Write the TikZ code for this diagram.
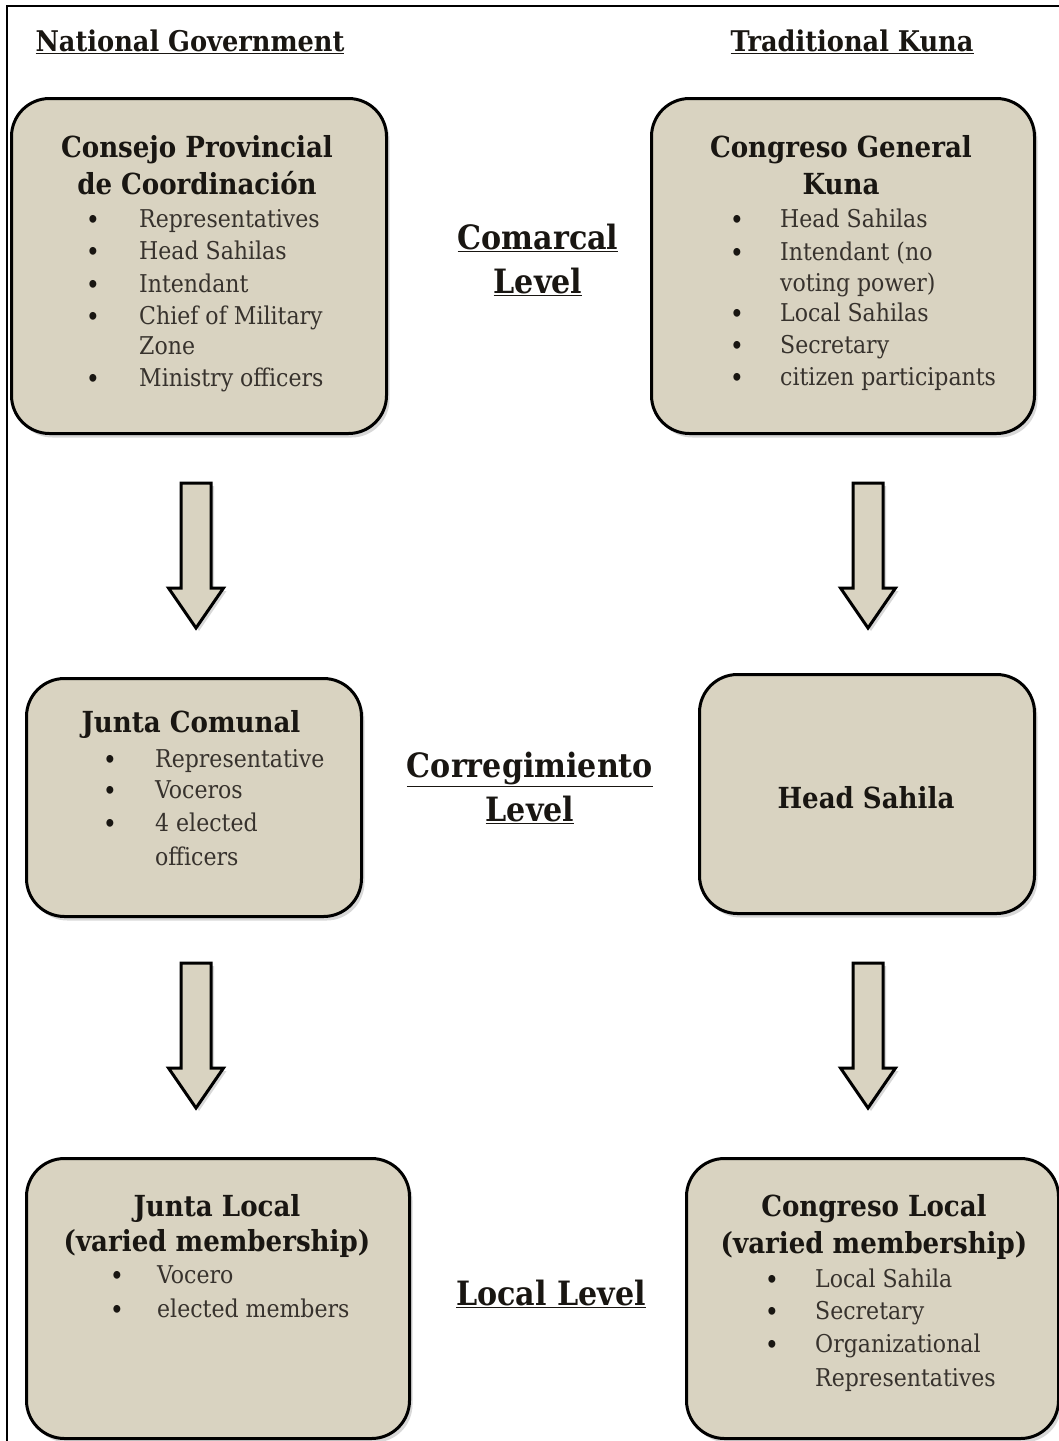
\documentclass[tikz,border=0pt]{standalone}
\usepackage{fontspec}
\setmainfont{DejaVu Serif Condensed}
\usetikzlibrary{shadows}
\definecolor{boxfill}{RGB}{217,211,193}
\definecolor{itemcol}{RGB}{55,50,45}
\definecolor{headcol}{RGB}{25,22,18}
\newcommand\myblockarrow[3]{%
  \draw[blockarrow] (#2-15,#3) -- (#2+15,#3) -- (#2+15,#3+105) -- (#2+27.5,#3+105)
    -- (#2,#3+145) coordinate (#1 tip) -- (#2-27.5,#3+105) -- (#2-15,#3+105) -- cycle;
  \coordinate (#1) at (#2,#3);}
\begin{document}
\begin{tikzpicture}[x=1pt,y=-1pt,
  box/.style={draw=black, line width=3pt, rounded corners=38pt, fill=boxfill,
    anchor=north west, inner sep=0pt,
    drop shadow={opacity=0.3, shadow xshift=3pt, shadow yshift=-4pt}},
  blockarrow/.style={draw=black, line width=3pt, fill=boxfill, line join=miter,
    drop shadow={opacity=0.3, shadow xshift=3pt, shadow yshift=-3pt}},
  head/.style={font=\fontsize{29}{36}\selectfont\bfseries, text=headcol, align=center, inner sep=0pt, anchor=mid, yshift=-6pt},
  item/.style={font=\fontsize{24.5}{30}\selectfont, text=itemcol, inner sep=0pt, anchor=mid west, yshift=-6pt},
  bul/.style={font=\fontsize{22}{24}\selectfont\bfseries, text=headcol, inner sep=0pt, anchor=mid, yshift=-6pt},
  title/.style={font=\fontsize{28.5}{32}\selectfont\bfseries, text=headcol, inner sep=0pt, anchor=mid, yshift=-7pt},
  level/.style={font=\fontsize{33.5}{44}\selectfont\bfseries, text=headcol, align=center, inner sep=0pt, anchor=center}
]
\useasboundingbox (0,0) rectangle (1059,1441);
\clip (0,0) rectangle (1059,1441);
\fill[white] (0,0) rectangle (1059,1441);
\draw[line width=1.6pt] (7,1445) -- (7,6) -- (1062,6);

% titles
\node[title] (tNG) at (190,42) {\underline{National Government}};
\node[title] (tTK) at (852,42) {\underline{Traditional Kuna}};

% boxes
\node[box, minimum width=375pt, minimum height=335pt] (A) at (10,97) {};
\node[box, minimum width=383pt, minimum height=335pt] (B) at (650,97) {};
\node[box, minimum width=335pt, minimum height=238pt] (C) at (25,677) {};
\node[box, minimum width=335pt, minimum height=239pt] (D) at (698,673) {};
\node[box, minimum width=383pt, minimum height=280pt] (E) at (25,1157) {};
\node[box, minimum width=372pt, minimum height=280pt] (F) at (685,1157) {};

% block arrows
\myblockarrow{a1}{196}{483}
\myblockarrow{a2}{868}{483}
\myblockarrow{a3}{196}{963}
\myblockarrow{a4}{868}{963}

% level labels
\node[level] (lC) at (538,260) {\underline{Comarcal}\\\underline{Level}};
\node[level] (lR) at (530,788) {\underline{Corregimiento}\\\underline{Level}};
\node[level] (lL) at (551,1294) {\underline{Local Level}};

% Box A text
\node[head] (hA1) at (197,149) {Consejo Provincial};
\node[head] (hA2) at (197,186) {de Coordinación};
\foreach \n/\y/\t in {1/219/Representatives, 2/251/Head Sahilas, 3/284/Intendant, 4/316/Chief of Military, 6/378/Ministry officers}{
  \node[bul] (bA\n) at (93,\y) {•};
  \node[item] (iA\n) at (139,\y) {\t};
}
\node[item] (iA5) at (139,346) {Zone};

% Box B text
\node[head] (hB1) at (841,149) {Congreso General};
\node[head] (hB2) at (841,186) {Kuna};
\foreach \n/\y/\t in {1/219/Head Sahilas, 2/252/Intendant (no, 4/313/Local Sahilas, 5/345/Secretary, 6/377/citizen participants}{
  \node[bul] (bB\n) at (737,\y) {•};
  \node[item] (iB\n) at (780,\y) {\t};
}
\node[item] (iB3) at (780,283) {voting power)};

% Box C text
\node[head] (hC1) at (191,724) {Junta Comunal};
\foreach \n/\y/\t in {1/759/Representative, 2/790/Voceros, 3/823/4 elected}{
  \node[bul] (bC\n) at (110,\y) {•};
  \node[item] (iC\n) at (155,\y) {\t};
}
\node[item] (iC4) at (155,857) {officers};

% Box D text
\node[head] (hD1) at (866,800) {Head Sahila};

% Box E text
\node[head] (hE1) at (217,1208) {Junta Local};
\node[head] (hE2) at (217,1243) {(varied membership)};
\foreach \n/\y/\t in {1/1275/Vocero, 2/1309/elected members}{
  \node[bul] (bE\n) at (117,\y) {•};
  \node[item] (iE\n) at (157,\y) {\t};
}

% Box F text
\node[head] (hF1) at (874,1208) {Congreso Local};
\node[head] (hF2) at (874,1245) {(varied membership)};
\foreach \n/\y/\t in {1/1279/Local Sahila, 2/1311/Secretary, 3/1344/Organizational}{
  \node[bul] (bF\n) at (772,\y) {•};
  \node[item] (iF\n) at (815,\y) {\t};
}
\node[item] (iF4) at (815,1378) {Representatives};
\end{tikzpicture}
\end{document}
